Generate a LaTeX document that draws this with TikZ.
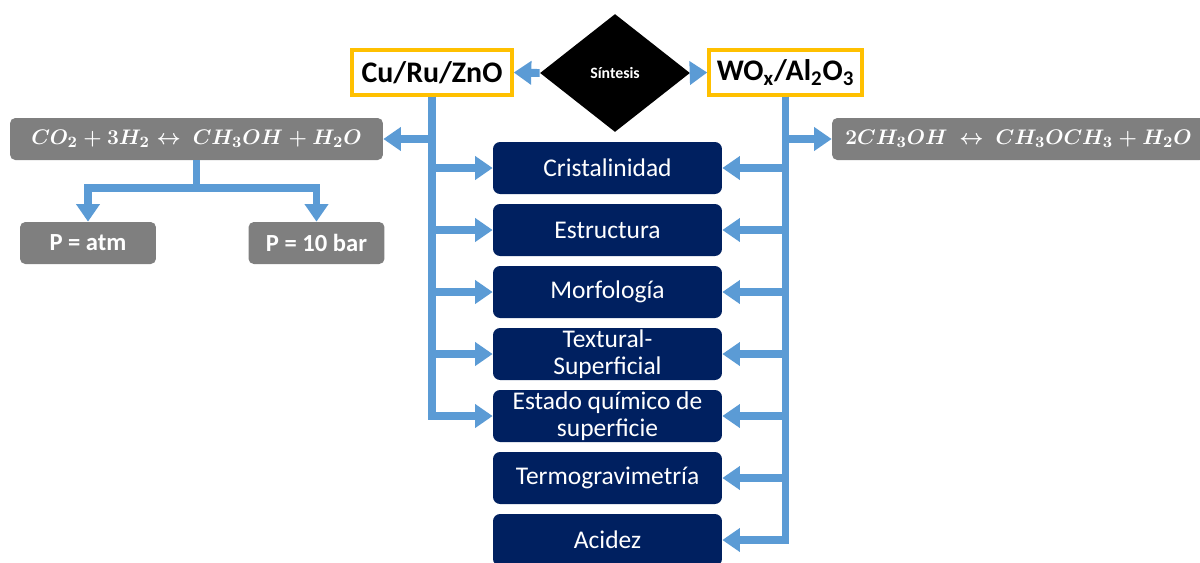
\documentclass[tikz,border=0pt]{standalone}
\usepackage{amsmath,amssymb}
\usepackage{fontspec}
\setmainfont{Carlito}
\usepackage{tikz}
\usetikzlibrary{calc, positioning, shapes.geometric, arrows.meta}

\definecolor{naranja}{HTML}{FFC000}
\definecolor{azul}{HTML}{5B9BD5}
\definecolor{gris}{HTML}{7F7F7F}
\definecolor{marino}{HTML}{002060}

\tikzset{
  catal/.style={draw=naranja, line width=2pt, fill=white, minimum height=0.9cm,
    font=\fontsize{17}{20}\selectfont\bfseries},
  reac/.style={fill=gris, rounded corners=3pt, text=white, minimum width=7.46cm,
    minimum height=0.84cm, inner xsep=1pt, font=\fontsize{13}{15}\selectfont\boldmath},
  pres/.style={fill=gris, rounded corners=3pt, text=white, minimum width=2.72cm,
    minimum height=0.84cm, font=\fontsize{14}{16}\selectfont\bfseries},
  tecnica/.style={fill=marino, rounded corners=4pt, text=white, minimum width=4.58cm,
    minimum height=1.04cm, align=center, inner sep=0pt,
    font=\fontsize{14.5}{15.5}\selectfont},
  flecha/.style={azul, line width=4.5pt, -{Triangle[width=13pt,length=10pt]}},
}

\begin{document}
\begin{tikzpicture}[x=0.02cm, y=-0.02cm]
\useasboundingbox (0,0) rectangle (1200,562);

% Rombo de la síntesis:
\node[diamond, fill=black, text=white, minimum width=3cm, minimum height=2.36cm,
  inner sep=0pt, font=\fontsize{9}{10}\selectfont\bfseries] (sintesis) at (615,73) {Síntesis};

% Los dos catalizadores:
\node[catal, minimum width=3.2cm] (cu) at (432,72.5) {Cu/Ru/ZnO};
\node[catal, minimum width=3.06cm] (wox) at (785.5,72.5) {WO\textsubscript{x}/Al\textsubscript{2}O\textsubscript{3}};

% Reacciones:
\node[reac] (reacA) at (196.5,139) {$CO_2+3H_2 \leftrightarrow\ CH_3OH+H_2O$};
\node[reac] (reacB) at (1018.5,139) {$2CH_3OH \ \leftrightarrow\ CH_3OCH_3+H_2O$};

% Presiones:
\node[pres] (patm) at (88,243) {P = atm};
\node[pres] (pbar) at (316.5,243) {P = 10 bar};

% Técnicas de caracterización:
\node[tecnica] (cris) at (607.5,168) {Cristalinidad};
\node[tecnica] (estr) at (607.5,230) {Estructura};
\node[tecnica] (morf) at (607.5,292) {Morfología};
\node[tecnica] (text) at (607.5,354) {Textural-\\Superficial};
\node[tecnica] (esta) at (607.5,416) {Estado químico de\\superficie};
\node[tecnica] (term) at (607.5,478) {Termogravimetría};
\node[tecnica] (acid) at (607.5,540) {Acidez};

% Flechas desde la síntesis:
\draw[flecha] (sintesis.west) -- (cu.east);
\draw[flecha] (sintesis.east) -- (wox.west);

% Flechas desde Cu/Ru/ZnO:
\draw[flecha] (cu.south) |- (reacA.east);
\draw[flecha] (cu.south) |- (cris.west);
\draw[flecha] (cu.south) |- (estr.west);
\draw[flecha] (cu.south) |- (morf.west);
\draw[flecha] (cu.south) |- (text.west);
\draw[flecha] (cu.south) |- (esta.west);

% Flechas desde WOx/Al2O3:
\draw[flecha] (wox.south) |- (reacB.west);
\draw[flecha] (wox.south) |- (cris.east);
\draw[flecha] (wox.south) |- (estr.east);
\draw[flecha] (wox.south) |- (morf.east);
\draw[flecha] (wox.south) |- (text.east);
\draw[flecha] (wox.south) |- (esta.east);
\draw[flecha] (wox.south) |- (term.east);
\draw[flecha] (wox.south) |- (acid.east);

% Flechas hacia las presiones:
\coordinate (rama) at (196.5,188);
\draw[flecha] (reacA.south) -- (rama) -| (patm.north);
\draw[flecha] (rama) -| (pbar.north);
\end{tikzpicture}
\end{document}
